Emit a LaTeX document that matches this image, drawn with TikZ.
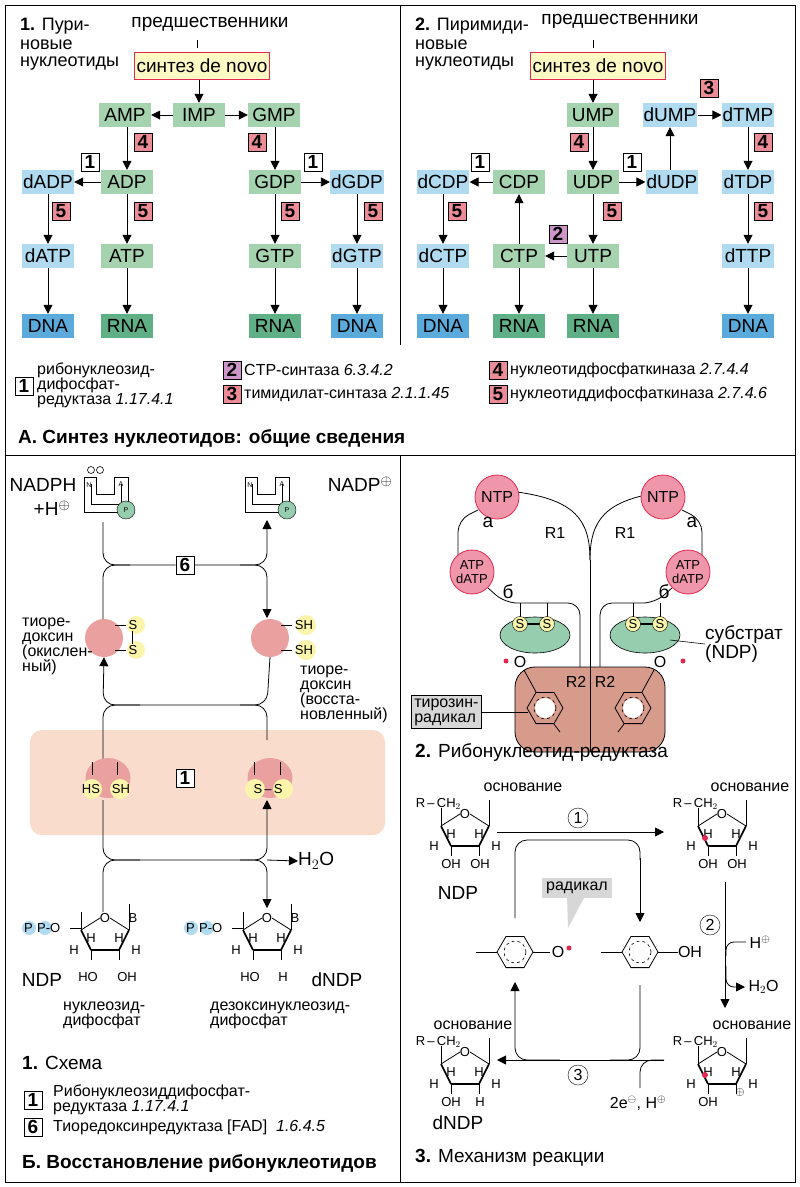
\documentclass[tikz,border=0pt]{standalone}
\usepackage{fontspec}
\setmainfont{Liberation Sans}
\usetikzlibrary{arrows.meta,shapes.geometric,calc}
\definecolor{gA}{RGB}{165,210,175}
\definecolor{gD}{RGB}{95,175,135}
\definecolor{bA}{RGB}{175,218,240}
\definecolor{bD}{RGB}{90,170,220}
\definecolor{rE}{RGB}{235,140,150}
\definecolor{pE}{RGB}{205,150,200}
\definecolor{yB}{RGB}{255,250,195}
\definecolor{rB}{RGB}{225,40,80}
\definecolor{pk}{RGB}{235,160,160}
\definecolor{pkbg}{RGB}{250,220,205}
\definecolor{yel}{RGB}{250,245,170}
\definecolor{gr}{RGB}{150,205,175}
\definecolor{br}{RGB}{215,155,140}
\definecolor{ntp}{RGB}{240,150,170}
\definecolor{gy}{RGB}{215,215,215}
\newcommand\fN{\fontsize{19}{21}\selectfont}
\newcommand\fH{\fontsize{18}{19}\selectfont}
\newcommand\fS{\fontsize{16}{18}\selectfont}
\newcommand\fT{\fontsize{13}{14}\selectfont}
\newcommand\furanring[2]{%
 \begin{scope}[shift={(#1,#2)}]
  \draw[line width=0.8] (-5,-16)--(-24,-4) (5,-16)--(24,-4);
  \node[font=\fT,inner sep=0] at (0,-16) {O};
  \draw[line width=1.6] (-24,-4)--(-14,16);
  \draw[line width=2.8] (-14,16)--(14,16);
  \draw[line width=1.6] (14,16)--(24,-4);
  \draw[line width=0.8] (-24,-4)--(-24,-22) (24,-4)--(24,-30) (-14,16)--(-14,26) (14,16)--(14,26);
  \node[font=\fT,inner sep=0] at (-14,4) {H};
  \node[font=\fT,inner sep=0] at (14,4) {H};
  \node[font=\fT,inner sep=0] at (-31,16) {H};
  \node[font=\fT,inner sep=0] at (31,16) {H};
 \end{scope}}
\newcommand\tyrring[3]{%
 \begin{scope}[shift={(#1,#2)},rotate=#3]
  \draw[line width=0.8] (0:18)--(60:18)--(120:18)--(180:18)--(240:18)--(300:18)--cycle;
  \draw[dashed,line width=0.6] (0,0) circle (11);
 \end{scope}}
\begin{document}
\begin{tikzpicture}[x=1pt,y=-1pt,
 mol/.style={font=\fN,minimum width=52,minimum height=24,inner sep=1},
 g/.style={mol,fill=gA}, b/.style={mol,fill=bA},
 gd/.style={mol,fill=gD}, bd/.style={mol,fill=bD},
 enz/.style={font=\bfseries\fN,draw,line width=0.7,minimum size=18,inner sep=0,fill=rE},
 enzw/.style={enz,fill=white},
 enzp/.style={enz,fill=pE},
 arr/.style={-{Triangle[length=9,width=9]},line width=0.8},
 ln/.style={line width=0.8},
 rc/.style={rounded corners=12},
 txt/.style={font=\fN,inner sep=0,anchor=west},
 lt/.style={font=\fS,inner sep=0,anchor=west,align=left}]
\useasboundingbox (0,0) rectangle (800,1187);
\fill[white] (0,0) rectangle (800,1187);
% frames
\draw[line width=1] (5,5) rectangle (795,1182);
\draw[line width=1] (5,455)--(795,455);
\draw[line width=1] (400,5)--(400,345);
\draw[line width=1] (400,455)--(400,1182);
% ---------- A1 purine
\node[lt,font=\fH] at (20,26) {\textbf{1.} Пури-};
\node[lt,font=\fH] at (20,45) {новые};
\node[lt,font=\fH] at (20,64) {нуклеотиды};
\node[font=\fN] (pre1) at (210,24) {предшественники};
\node[font=\fN,fill=yB,draw=rB,line width=1,minimum width=135,minimum height=27,inner sep=1] (dn1) at (202,66) {синтез de novo};
\draw[ln] (197,40)--(197,48);
\node[g] (IMP) at (199,115) {IMP};
\node[g] (AMP) at (125,115) {AMP};
\node[g] (GMP) at (274,115) {GMP};
\node[g] (ADP) at (127,182) {ADP};
\node[b] (dADP) at (48,182) {dADP};
\node[g] (GDP) at (275,182) {GDP};
\node[b] (dGDP) at (357,182) {dGDP};
\node[b] (dATP) at (48,256) {dATP};
\node[g] (ATP) at (127,256) {ATP};
\node[g] (GTP) at (275,256) {GTP};
\node[b] (dGTP) at (357,256) {dGTP};
\node[bd] (DNA1) at (48,326) {DNA};
\node[gd] (RNA1) at (127,326) {RNA};
\node[gd] (RNA2) at (275,326) {RNA};
\node[bd] (DNA2) at (357,326) {DNA};
\draw[arr] (dn1.south -| IMP) -- (IMP);
\draw[arr] (IMP)--(AMP); \draw[arr] (IMP)--(GMP);
\draw[arr] (AMP.south -| ADP)--(ADP.north);
\draw[arr] (GMP.south -| GDP)--(GDP.north);
\draw[arr] (ADP)--(dADP); \draw[arr] (GDP)--(dGDP);
\foreach \a/\b in {dADP/dATP,ADP/ATP,GDP/GTP,dGDP/dGTP,dATP/DNA1,ATP/RNA1,GTP/RNA2,dGTP/DNA2}
 \draw[arr] (\a)--(\b);
\node[enz] (e4a) at (143,142) {4};
\node[enz] (e4b) at (257,142) {4};
\node[enzw] (e1a) at (90,162) {1};
\node[enzw] (e1b) at (313,162) {1};
\node[enz] (e5a) at (61,211) {5};
\node[enz] (e5b) at (143,211) {5};
\node[enz] (e5c) at (290,211) {5};
\node[enz] (e5d) at (373,211) {5};
% ---------- A2 pyrimidine
\node[lt,font=\fH] at (415,26) {\textbf{2.} Пиримиди-};
\node[lt,font=\fH] at (415,45) {новые};
\node[lt,font=\fH] at (415,64) {нуклеотиды};
\node[font=\fN] (pre2) at (620,21) {предшественники};
\node[font=\fN,fill=yB,draw=rB,line width=1,minimum width=135,minimum height=27,inner sep=1] (dn2) at (598,66) {синтез de novo};
\draw[ln] (593,40)--(593,48);
\node[g] (UMP) at (593,115) {UMP};
\node[b] (dUMP) at (670,115) {dUMP};
\node[b] (dTMP) at (748,115) {dTMP};
\node[b] (dCDP) at (443,182) {dCDP};
\node[g] (CDP) at (519,182) {CDP};
\node[g] (UDP) at (593,182) {UDP};
\node[b] (dUDP) at (672,182) {dUDP};
\node[b] (dTDP) at (748,182) {dTDP};
\node[b] (dCTP) at (443,256) {dCTP};
\node[g] (CTP) at (519,256) {CTP};
\node[g] (UTP) at (593,256) {UTP};
\node[b] (dTTP) at (748,256) {dTTP};
\node[bd] (DNA3) at (443,326) {DNA};
\node[gd] (RNA3) at (519,326) {RNA};
\node[gd] (RNA4) at (593,326) {RNA};
\node[bd] (DNA4) at (748,326) {DNA};
\draw[arr] (dn2.south -| UMP)--(UMP);
\draw[arr] (dUMP)--(dTMP);
\draw[arr] (CDP)--(dCDP); \draw[arr] (UDP)--(dUDP);
\draw[arr] (dUDP.north -| dUMP)--(dUMP.south);
\draw[arr] (UTP)--(CTP); \draw[arr] (CTP)--(CDP);
\foreach \a/\b in {UMP/UDP,dTMP/dTDP,dCDP/dCTP,UDP/UTP,dTDP/dTTP,dCTP/DNA3,CTP/RNA3,UTP/RNA4,dTTP/DNA4}
 \draw[arr] (\a)--(\b);
\node[enz] at (709,88) {3};
\node[enz] at (579,142) {4};
\node[enz] at (763,142) {4};
\node[enzw] at (480,162) {1};
\node[enzw] at (632,162) {1};
\node[enz] at (457,211) {5};
\node[enz] at (612,211) {5};
\node[enz] at (763,211) {5};
\node[enzp] at (558,234) {2};
% legend A
\node[enzw] at (24,386) {1};
\node[lt] at (37,385) {рибонуклеозид-\\[-3pt]дифосфат-\\[-3pt]редуктаза \textit{1.17.4.1}};
\node[enzp] at (232,370) {2};
\node[lt] at (244,370) {CTP-синтаза \textit{6.3.4.2}};
\node[enz] at (232,394) {3};
\node[lt] at (244,394) {тимидилат-синтаза \textit{2.1.1.45}};
\node[enz] at (498,370) {4};
\node[lt] at (510,370) {нуклеотидфосфаткиназа \textit{2.7.4.4}};
\node[enz] at (498,394) {5};
\node[lt] at (510,394) {нуклеотиддифосфаткиназа \textit{2.7.4.6}};
\node[txt] at (18,438) {\textbf{А. Синтез нуклеотидов: общие сведения}};
% ---------- B1 scheme
\fill[pkbg,rounded corners=12] (30,730) rectangle (385,835);
\node[txt,anchor=center] at (43,485) {NADPH};
\node[txt,anchor=center] at (52,508) {+H$^{\oplus}$};
\node[txt,anchor=center] at (360,484) {NADP$^{\oplus}$};
\foreach \ox in {84,245}{
 \draw[line width=0.6] (\ox,477)--(\ox,512)--(\ox+34,512) (\ox,477)--(\ox+12,477)--(\ox+12,494)--(\ox+30,494)--(\ox+30,477)--(\ox+44,477)--(\ox+44,503);
 \draw[line width=0.6] (\ox+7,484)--(\ox+7,504)--(\ox+37,504)--(\ox+37,484);
 \node[font=\fT,inner sep=0] at (\ox+5,485) {\scriptsize N};
 \node[font=\fT,inner sep=0] at (\ox+37,484) {\scriptsize A};
 \node[circle,draw,fill=gr,minimum size=18,inner sep=0,font=\scriptsize] at (\ox+42,510) {P};}
\draw[line width=0.6] (91,470) circle (3.5) (100,470) circle (3.5);
\node[enzw] (e6) at (185,565) {6};
\coordinate (L1) at (103,522); \coordinate (R1) at (267,520);
\node[circle,fill=pk,minimum size=38] (tL) at (104,638) {};
\node[circle,fill=pk,minimum size=38] (tR) at (270,638) {};
% junction 1
\draw[ln,rc] (L1)--(103,565)--(e6.west);
\draw[ln,rc] (130,565)--(103,565)--(103,619);
\draw[arr,rc] (e6.east)--(267,565)--(R1);
\draw[arr,rc] (240,565)--(267,565)--(267,618);
% thioredoxins
\fill[yel] (136,625) circle (9) (136,650) circle (9) (306,625) circle (10) (306,650) circle (10);
\draw[ln] (115,625)--(126,625) (115,650)--(126,650) (281,625)--(292,625) (281,650)--(292,650) (132,631)--(132,644);
\node[font=\fT] at (133,625) {S}; \node[font=\fT] at (133,650) {S};
\node[font=\fT] at (304,625) {SH}; \node[font=\fT] at (304,650) {SH};
\node[lt] at (22,646) {тиоре-\\[-3pt]доксин\\[-3pt](окислен-\\[-3pt]ный)};
\node[lt] at (300,694) {тиоре-\\[-3pt]доксин\\[-3pt](восста-\\[-3pt]новленный)};
% junction 2
\draw[arr,rc] (tR.south |- 0,657)--(267,705)--(103,705)--(tL.south);
\draw[arr,rc] (140,705)--(103,705)--(103,770);
\draw[ln,rc] (240,705)--(267,705)--(267,740);
% enzyme 1
\node[ellipse,fill=pk,minimum width=45,minimum height=40] (E1L) at (108,778) {};
\node[ellipse,fill=pk,minimum width=45,minimum height=40] (E1R) at (270,778) {};
\fill[yel] (92,789) circle (10) (120,789) circle (10) (255,789) circle (10) (283,789) circle (10);
\draw[ln] (92,762)--(92,775) (117,762)--(117,775) (254,762)--(254,775) (280,762)--(280,775);
\node[font=\fT] at (91,789) {HS}; \node[font=\fT] at (121,789) {SH};
\node[font=\fT] at (268,789) {S\,–\,S};
\node[enzw] at (185,778) {1};
% junction 3
\draw[arr,rc] (103,800)--(103,860)--(267,860)--(267,800);
\draw[ln,rc] (140,860)--(103,860)--(103,912);
\draw[arr,rc] (240,860)--(267,860)--(267,908);
\node[txt] (h2o1) at (298,861) {H$_2$O};
\draw[arr] (267,860)--(h2o1.west);
% sugars B
\furanring{105}{934}
\furanring{267}{934}
\fill[bA] (29,928) circle (7) (45,928) circle (7) (191,928) circle (7) (207,928) circle (7);
\node[font=\fT,anchor=west,inner sep=0] at (24,928) {P\,\,P-O};
\node[font=\fT,anchor=west,inner sep=0] at (186,928) {P\,\,P-O};
\draw[line width=0.8] (70,928)--(81,928) (232,928)--(243,928);
\node[font=\fT] at (133,918) {B}; \node[font=\fT] at (295,918) {B};
\node[font=\fT] at (88,977) {HO}; \node[font=\fT] at (127,977) {OH};
\node[font=\fT] at (250,977) {HO}; \node[font=\fT] at (283,977) {H};
\node[font=\fN] at (42,980) {NDP}; \node[font=\fN] at (337,980) {dNDP};
\node[lt] at (63,1015) {нуклеозид-\\[-3pt]дифосфат};
\node[lt] at (210,1015) {дезоксинуклеозид-\\[-3pt]дифосфат};
\node[txt] at (22,1063) {\textbf{1.} Схема};
\node[enzw,fill=white] at (33,1100) {1};
\node[lt] at (53,1100) {Рибонуклеозиддифосфат-\\[-3pt]редуктаза \textit{1.17.4.1}};
\node[enzw] at (33,1127) {6};
\node[lt] at (53,1127) {Тиоредоксинредуктаза [FAD]\ \ \textit{1.6.4.5}};
\node[txt] at (22,1163) {\textbf{Б. Восстановление рибонуклеотидов}};
% ---------- B2 ribonucleotide reductase
\draw[ln] (590,560)--(590,748);
\draw[ln] (517,492) .. controls (575,500) and (590,520) .. (590,560);
\draw[ln] (663,492) .. controls (605,500) and (590,520) .. (590,560);
\draw[ln,rc] (478,510)--(458,520)--(458,555);
\draw[ln,rc] (682,510)--(702,520)--(702,555);
\draw[ln,rc] (488,588)--(505,603)--(580,603)--(580,668);
\draw[ln,rc] (672,588)--(655,603)--(600,603)--(600,668);
\node[circle,draw=rB,fill=ntp,minimum size=44,font=\fS,line width=0.8,inner sep=0] (NTPL) at (497,497) {NTP};
\node[circle,draw=rB,fill=ntp,minimum size=44,font=\fS,line width=0.8,inner sep=0] (NTPR) at (663,497) {NTP};
\node[circle,draw=rB,fill=ntp,minimum size=44,font=\fT,align=center,line width=0.8,inner sep=0] (ATPL) at (472,572) {ATP\\dATP};
\node[circle,draw=rB,fill=ntp,minimum size=44,font=\fT,align=center,line width=0.8,inner sep=0] (ATPR) at (688,572) {ATP\\dATP};
\node[font=\fN] at (488,522) {а}; \node[font=\fN] at (692,522) {а};
\node[font=\fS] at (555,533) {R1}; \node[font=\fS] at (625,533) {R1};
\node[font=\fN] at (508,592) {б}; \node[font=\fN] at (664,592) {б};
\node[ellipse,draw,fill=gr,minimum width=70,minimum height=36,line width=0.6] (subL) at (535,635) {};
\node[ellipse,draw,fill=gr,minimum width=70,minimum height=36,line width=0.6] (subR) at (645,635) {};
\draw[ln] (520,603)--(520,618) (547,603)--(547,618) (633,603)--(633,618) (660,603)--(660,618);
\draw[line width=2] (520,624)--(547,624) (633,624)--(660,624);
\foreach \sx in {520,547,633,660}
 \node[circle,draw,fill=yel,minimum size=15,inner sep=0,font=\fT] at (\sx,624) {S};
\node[lt,font=\fN] (subt) at (705,644) {субстрат\\[-2pt](NDP)};
\draw[line width=0.6] (670,640)--(subt.west);
% R2
\draw[ln,fill=br,rounded corners=20] (590,667) -- (515,667) -- (515,752) -- (590,752);
\draw[ln,fill=br,rounded corners=20] (590,667) -- (665,667) -- (665,752) -- (590,752);
\draw[ln] (590,667)--(590,752);
\fill[white] (545,708) circle (10) (633,708) circle (10);
\tyrring{545}{708}{0}
\tyrring{633}{708}{0}
\draw[ln] (536,692)--(524,670) (642,692)--(654,670) (554,724)--(560,732) (624,724)--(618,732);
\node[font=\fS] at (520,662) {O}; \node[font=\fS] at (660,662) {O};
\fill[rB] (506,661) circle (2.5) (683,661) circle (2.5);
\node[font=\fS] at (576,682) {R2}; \node[font=\fS] at (605,682) {R2};
\node[lt,fill=gy,draw,line width=0.5,inner sep=3] (tyr) at (411,712) {тирозин-\\[-3pt]радикал};
\draw[line width=0.5] (tyr.east) -- (528,712);
\node[txt] at (415,752) {\textbf{2.} Рибонуклеотид-редуктаза};
% ---------- B3 mechanism
\furanring{465}{830}
\furanring{722}{830}
\furanring{465}{1068}
\furanring{722}{1068}
\fill[rB] (705,838) circle (3) (705,1075) circle (3);
\node[font=\fT] at (740,1092) {$\oplus$};
\foreach \sx/\sy/\bo in {465/830/58,722/830/28,465/1068/8,722/1068/30}{
 \node[font=\fT,anchor=east,inner sep=0] at (\sx-4,\sy-26) {R\,–\,CH$_2$};
 \node[font=\fS,inner sep=0] at (\sx+\bo,\sy-43) {основание};}
\node[font=\fT] at (451,864) {OH}; \node[font=\fT] at (480,864) {OH};
\node[font=\fT] at (708,864) {OH}; \node[font=\fT] at (737,864) {OH};
\node[font=\fT] at (451,1102) {OH}; \node[font=\fT] at (480,1102) {H};
\node[font=\fT] at (708,1102) {OH};
\node[font=\fN] at (458,893) {NDP};
\node[font=\fN] at (458,1123) {dNDP};
\node[circle,draw,minimum size=20,inner sep=0,font=\fS] (c1) at (578,818) {1};
\node[circle,draw,minimum size=20,inner sep=0,font=\fS] (c2) at (710,925) {2};
\node[circle,draw,minimum size=20,inner sep=0,font=\fS] (c3) at (578,1075) {3};
\coordinate (n1a) at (497,832); \coordinate (n1b) at (664,832);
\draw[arr] (n1a)--(n1b);
\tyrring{515}{952}{0}
\tyrring{640}{952}{0}
\draw[ln] (476,952)--(497,952) (533,952)--(550,952) (601,952)--(622,952) (658,952)--(678,952);
\node[font=\fS] at (558,952) {O}; \fill[rB] (569,948) circle (2.5);
\node[font=\fS] at (690,952) {OH};
\node[font=\fS,fill=gy,inner sep=4] (rad) at (577,888) {радикал};
\fill[gy] ($(rad.south)+(-10,-2)$) -- ($(rad.south)+(8,-2)$) -- (568,928) -- cycle;
\draw[ln,rc] (515,918) -- (515,840) -- (640,840) -- (640,860);
\draw[arr] (640,858) -- (640,922);
\draw[arr] (725,882)--(725,1008);
\node[font=\fS] (hp) at (760,942) {H$^{\oplus}$};
\draw[ln,rounded corners=8] (hp.west) -- (726,942) -- (726,956);
\node[font=\fS,anchor=west] (h2o2) at (745,987) {H$_2$O};
\draw[arr,rounded corners=8] (726,966) -- (726,987) -- (h2o2.west);
% bottom loop
\coordinate (n3a) at (664,1060); \coordinate (n3b) at (497,1060);
\draw[arr] (n3a)--(n3b);
\draw[arr,rc] (560,1060) -- (515,1060) -- (515,982);
\draw[ln,rc] (640,985) -- (640,1060) -- (610,1060);
\draw[ln,rc] (640,1088) -- (640,1060) -- (664,1060);
\node[font=\fS] at (638,1103) {2e$^{\ominus}$, H$^{\oplus}$};
\node[txt] at (415,1158) {\textbf{3.} Механизм реакции};
\end{tikzpicture}
\end{document}
